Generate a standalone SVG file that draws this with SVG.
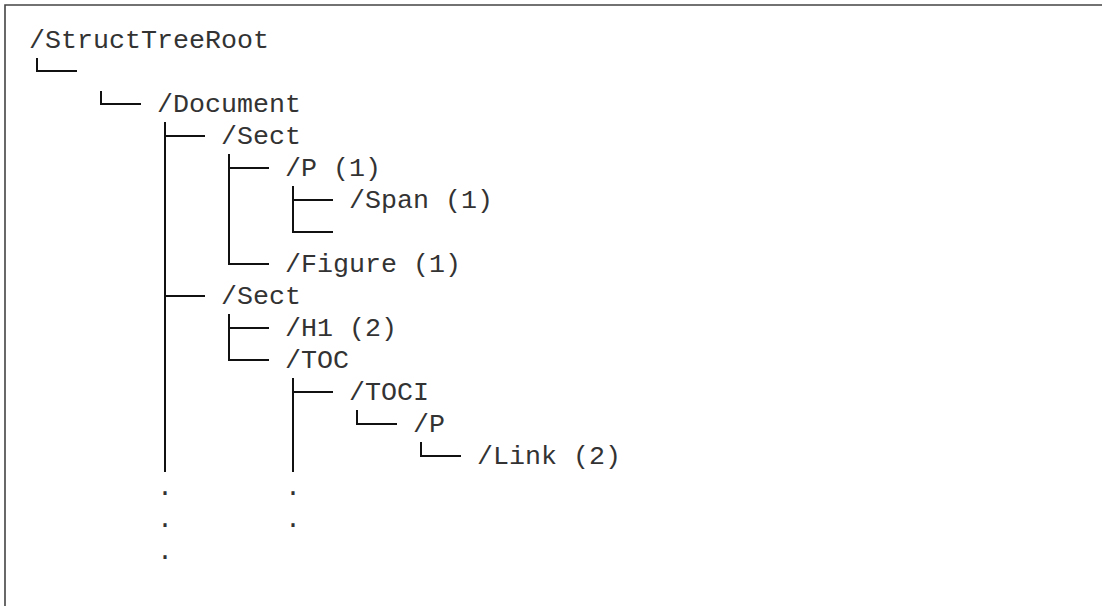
<svg xmlns="http://www.w3.org/2000/svg" width="1102" height="606" viewBox="0 0 1102 606">
  <style>
    .t { font-family: "Liberation Mono", "DejaVu Sans Mono", monospace; font-size: 26.67px; fill: #333; }
    .c { stroke: #111; stroke-width: 2; fill: none; }
    .frame { stroke: #444; stroke-width: 1.6; fill: none; }
  </style>
  <rect width="1102" height="606" fill="#fff"/>
  <path class="frame" d="M5,606 V5 H1102"/>
  <g id="connectors">
    <path class="c" d="M37,58 V71 H77"/>
    <path class="c" d="M101,91 V104 H141"/>
    <path class="c" d="M165,122 V472"/>
    <path class="c" d="M165,136 H205"/>
    <path class="c" d="M165,296 H205"/>
    <path class="c" d="M229,154 V264 H269"/>
    <path class="c" d="M229,168 H269"/>
    <path class="c" d="M293,186 V232 H333"/>
    <path class="c" d="M293,200 H333"/>
    <path class="c" d="M229,314 V360 H269"/>
    <path class="c" d="M229,328 H269"/>
    <path class="c" d="M293,378 V472"/>
    <path class="c" d="M293,392 H333"/>
    <path class="c" d="M357,410 V424 H397"/>
    <path class="c" d="M421,442 V456 H461"/>
  </g>
  <g id="n-structtreeroot"><text class="t" x="29" y="48">/StructTreeRoot</text></g>
  <g id="n-document"><text class="t" x="157" y="112">/Document</text></g>
  <g id="n-sect1"><text class="t" x="221" y="144">/Sect</text></g>
  <g id="n-p1"><text class="t" x="285" y="176">/P (1)</text></g>
  <g id="n-span1"><text class="t" x="349" y="208">/Span (1)</text></g>
  <g id="n-figure1"><text class="t" x="285" y="272">/Figure (1)</text></g>
  <g id="n-sect2"><text class="t" x="221" y="304">/Sect</text></g>
  <g id="n-h1"><text class="t" x="285" y="336">/H1 (2)</text></g>
  <g id="n-toc"><text class="t" x="285" y="368">/TOC</text></g>
  <g id="n-toci"><text class="t" x="349" y="400">/TOCI</text></g>
  <g id="n-p2"><text class="t" x="413" y="432">/P</text></g>
  <g id="n-link2"><text class="t" x="477" y="464">/Link (2)</text></g>
  <g id="ellipsis">
    <text class="t" x="157" y="495">.</text>
    <text class="t" x="285" y="495">.</text>
    <text class="t" x="157" y="527">.</text>
    <text class="t" x="285" y="527">.</text>
    <text class="t" x="157" y="559">.</text>
  </g>
</svg>
